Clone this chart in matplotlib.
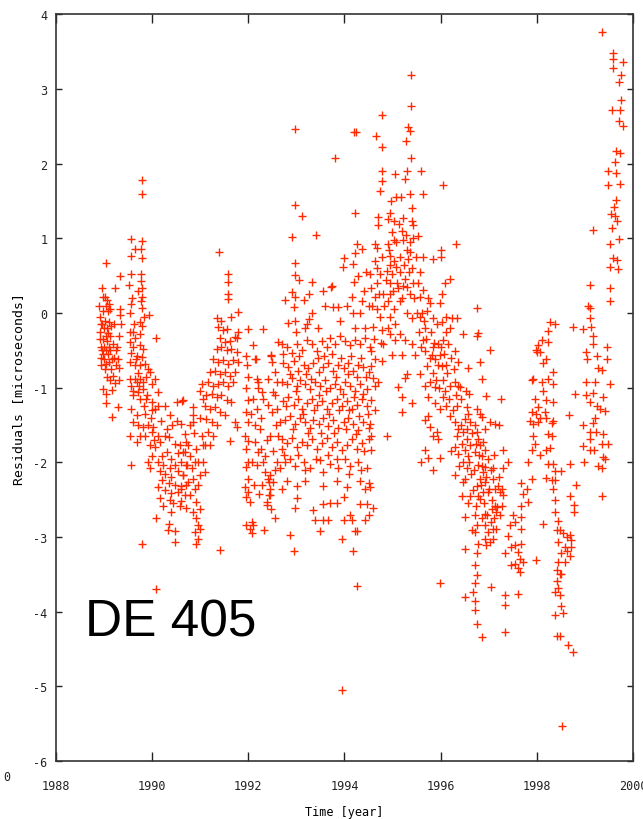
import matplotlib
matplotlib.use('Agg')
import matplotlib.pyplot as plt

plt.rcParams['axes.unicode_minus'] = False

# residuals: (year, microseconds)
obs_1989 = [(1988.90, 0.10), (1988.92, -0.05), (1988.92, -0.25), (1988.93, -0.45), (1988.93, -0.60), (1988.94, -0.70),
            (1988.95, 0.33), (1988.96, -0.15), (1988.97, 0.21), (1988.97, 0.03), (1988.97, -0.35), (1988.97, -0.55),
            (1988.97, -1.01), (1988.99, -0.20), (1989.00, -0.45), (1989.00, -0.62), (1989.02, 0.22), (1989.02, -0.10),
            (1989.03, -0.30), (1989.04, -0.50), (1989.04, -1.21), (1989.05, 0.67), (1989.05, -0.68), (1989.05, -1.08),
            (1989.06, 0.17), (1989.06, -0.20), (1989.07, -0.38), (1989.08, 0.03), (1989.08, -0.55), (1989.09, -0.27),
            (1989.10, 0.12), (1989.10, -0.12), (1989.10, -0.45), (1989.11, -0.65), (1989.12, -0.90), (1989.13, -0.30),
            (1989.13, -0.50), (1989.14, -0.17), (1989.15, -0.75), (1989.16, -1.03), (1989.17, -1.39), (1989.18, -0.42),
            (1989.19, -0.84), (1989.20, -0.60), (1989.23, 0.33), (1989.23, -0.94), (1989.25, -0.50), (1989.28, -1.26),
            (1989.28, -0.62), (1989.30, -0.73), (1989.30, -0.30), (1989.33, 0.06), (1989.33, -0.03), (1989.34, 0.50),
            (1989.35, -0.14), (1988.91, -0.35), (1988.95, -0.50), (1989.01, -0.75), (1989.07, -0.85), (1989.12, 0.05),
            (1989.16, -0.62), (1989.21, -0.15), (1989.24, -0.70), (1989.27, -0.45), (1989.32, -0.90), (1988.93, -0.15),
            (1989.03, 0.10)]

obs_1990 = [(1989.78, 1.78), (1989.78, 1.60), (1989.55, 0.99), (1989.78, 0.97), (1989.76, 0.86), (1989.64, 0.86),
            (1989.78, 0.74), (1989.55, 0.76), (1989.57, 0.52), (1989.76, 0.52), (1989.76, 0.43), (1989.52, 0.38),
            (1989.78, 0.33), (1989.78, 0.22), (1989.76, 0.16), (1989.78, 0.07), (1989.57, 0.12), (1989.54, 0.00),
            (1989.94, -0.03), (1989.75, -0.12), (1989.78, -0.17), (1990.09, -0.34), (1989.55, -2.04), (1989.78, -3.09),
            (1990.08, -3.69), (1989.54, -0.25), (1989.61, -0.25), (1989.75, -0.28), (1989.53, -0.39), (1989.64, -0.34),
            (1989.75, -0.43), (1989.81, -0.48), (1989.57, -0.54), (1989.68, -0.57), (1989.78, -0.59), (1989.54, -0.66),
            (1989.64, -0.70), (1989.75, -0.70), (1989.85, -0.68), (1989.92, -0.75), (1989.95, -0.79), (1989.54, -0.88),
            (1989.64, -0.88), (1989.75, -0.88), (1989.68, -0.92), (1989.81, -0.92), (1989.57, -0.97), (1989.61, -1.04),
            (1989.71, -1.06), (1989.81, -1.01), (1989.99, -0.95), (1990.06, -0.88), (1990.13, -1.06), (1989.61, -1.10),
            (1989.75, -1.15), (1989.88, -1.15), (1989.99, -1.19), (1990.06, -1.28), (1989.57, -1.28), (1989.68, -1.37),
            (1989.61, -1.46), (1989.71, -1.50), (1989.81, -1.53), (1989.92, -1.50), (1990.02, -1.53), (1989.75, -1.64),
            (1989.85, -1.64), (1989.99, -1.59), (1989.54, -1.64), (1989.68, -1.73), (1989.95, -1.77), (1989.99, -1.91),
            (1989.92, -1.99), (1989.95, -2.08), (1989.60, -0.45), (1989.66, -0.62), (1989.70, -0.80), (1989.73, -0.98),
            (1989.83, -1.25), (1989.86, -1.35), (1989.90, -1.10), (1989.88, -0.85), (1989.63, -0.15), (1989.70, 0.30),
            (1989.58, 0.20), (1989.97, -1.40), (1990.03, -1.70), (1990.00, -1.30), (1989.84, -0.05),
            (1990.27, -1.24), (1990.37, -1.37), (1990.51, -1.19), (1990.63, -1.18), (1990.52, -1.44), (1990.61, -1.48),
            (1990.68, -1.62), (1990.13, -1.64), (1990.16, -1.73), (1990.27, -1.64), (1990.34, -1.66), (1990.47, -1.75),
            (1990.58, -1.77), (1990.71, -1.73), (1990.06, -1.80), (1990.20, -1.91), (1990.30, -1.86), (1990.40, -1.95),
            (1990.54, -1.88), (1990.64, -1.86), (1990.13, -1.99), (1990.23, -2.03), (1990.37, -2.08), (1990.47, -2.03),
            (1990.61, -2.00), (1990.71, -2.03), (1990.16, -2.12), (1990.27, -2.15), (1990.40, -2.19), (1990.54, -2.12),
            (1990.64, -2.17), (1990.20, -2.24), (1990.34, -2.28), (1990.47, -2.30), (1990.61, -2.32), (1990.71, -2.30),
            (1990.13, -2.33), (1990.27, -2.37), (1990.40, -2.41), (1990.54, -2.39), (1990.68, -2.43), (1990.16, -2.48),
            (1990.37, -2.50), (1990.61, -2.52), (1990.23, -2.59), (1990.44, -2.55), (1990.58, -2.59), (1990.71, -2.61),
            (1990.40, -2.66), (1990.08, -2.75), (1990.34, -2.83), (1990.47, -2.92), (1990.47, -3.07), (1990.32, -2.91),
            (1990.30, -1.55), (1990.18, -1.45), (1990.42, -1.50), (1990.12, -1.25), (1990.65, -1.17)]

obs_1991 = [(1990.85, -1.26), (1990.85, -1.37), (1990.85, -1.46), (1990.75, -1.77), (1990.79, -1.91), (1990.92, -1.82),
            (1991.03, -1.64), (1991.06, -1.77), (1990.72, -2.04), (1990.82, -2.08), (1990.96, -1.99), (1991.06, -1.99),
            (1990.75, -2.26), (1990.85, -2.22), (1990.99, -2.17), (1991.10, -2.13), (1990.79, -2.44), (1990.89, -2.35),
            (1990.92, -2.53), (1990.99, -2.62), (1990.85, -2.66), (1990.92, -2.75), (1990.96, -2.84), (1990.89, -2.93),
            (1990.96, -3.02), (1990.92, -3.09), (1990.99, -2.89), (1990.68, -1.86), (1990.65, -2.17), (1990.61, -2.35),
            (1990.88, -1.60), (1990.95, -2.30), (1990.90, -2.00), (1991.00, -1.40), (1990.78, -1.50),
            (1991.37, -0.19), (1991.48, -0.23), (1991.41, -0.34), (1991.51, -0.39), (1991.62, -0.37), (1991.72, -0.32),
            (1991.79, -0.25), (1991.34, -0.48), (1991.44, -0.46), (1991.55, -0.50), (1991.65, -0.48), (1991.76, -0.52),
            (1991.27, -0.61), (1991.37, -0.66), (1991.48, -0.63), (1991.58, -0.68), (1991.69, -0.63), (1991.79, -0.66),
            (1991.20, -0.79), (1991.31, -0.77), (1991.41, -0.81), (1991.51, -0.79), (1991.62, -0.84), (1991.72, -0.79),
            (1991.17, -0.92), (1991.27, -0.97), (1991.37, -0.95), (1991.48, -0.92), (1991.58, -0.97), (1991.69, -0.92),
            (1991.13, -1.10), (1991.24, -1.08), (1991.34, -1.12), (1991.44, -1.10), (1991.55, -1.17), (1991.65, -1.19),
            (1991.10, -1.24), (1991.20, -1.28), (1991.31, -1.26), (1991.41, -1.33), (1991.51, -1.37), (1991.13, -1.42),
            (1991.24, -1.46), (1991.34, -1.50), (1991.72, -1.46), (1991.76, -1.53), (1991.62, -1.71), (1991.17, -1.59),
            (1991.27, -1.64), (1991.20, -1.77), (1991.10, -1.77), (1991.39, 0.82), (1991.58, 0.53), (1991.58, 0.42),
            (1991.58, 0.26), (1991.58, 0.19), (1991.34, -0.07), (1991.44, -0.10), (1991.55, -0.21), (1991.65, -0.05),
            (1991.79, 0.01), (1991.76, -0.34), (1991.41, -3.17), (1991.03, -0.95), (1991.06, -1.15), (1991.00, -1.05)]

obs_1992 = [(1991.96, -0.57), (1991.97, -0.70), (1992.00, -0.86), (1991.96, -1.00), (1992.00, -1.17), (1991.96, -1.33),
            (1992.00, -1.46), (1991.93, -1.64), (1992.00, -1.71), (1991.96, -1.82), (1992.00, -1.99), (1991.96, -2.06),
            (1992.00, -2.22), (1991.93, -2.33), (1992.00, -2.40), (1991.96, -2.46), (1992.03, -2.53), (1991.96, -2.84),
            (1992.03, -2.89), (1992.10, -2.84), (1992.07, -2.95), (1992.32, -2.91), (1992.00, -0.21), (1992.10, -0.43),
            (1992.14, -0.61), (1992.17, -0.88), (1992.20, -1.00), (1992.10, -1.15), (1992.17, -1.28), (1992.24, -1.55),
            (1992.14, -1.73), (1992.20, -1.86), (1992.07, -1.99), (1992.17, -2.04), (1992.27, -1.82), (1992.31, -1.99),
            (1992.35, -2.13), (1992.41, -2.22), (1992.45, -2.35), (1992.38, -2.53), (1992.48, -2.62), (1992.45, -2.44),
            (1992.52, -2.26), (1992.55, -2.75), (1992.31, -0.21), (1992.48, -0.56), (1992.41, -0.88), (1992.52, -1.06),
            (1992.59, -1.28), (1992.66, -1.46), (1992.62, -1.64), (1992.69, -1.82), (1992.59, -1.99), (1992.66, -2.08),
            (1992.47, -0.57), (1992.16, -0.61), (1992.20, -0.92), (1992.28, -1.06), (1992.27, -1.41), (1992.34, -1.91),
            (1992.38, -2.57), (1992.43, -2.44), (1992.42, -2.26), (1992.45, -2.17), (1992.45, -1.64), (1992.41, -1.23),
            (1992.50, -1.32), (1992.58, -1.50), (1992.55, -1.10), (1992.60, -0.92), (1992.55, -0.79), (1992.50, -0.66),
            (1992.62, -0.39), (1992.12, -2.30), (1992.08, -2.80), (1992.22, -2.42), (1992.28, -2.30), (1992.05, -1.35),
            (1992.13, -1.50), (1992.38, -1.70), (1992.52, -1.85), (1992.56, -2.10), (1992.30, -1.15)]

obs_1993 = [(1992.97, 2.46), (1994.20, 2.42), (1994.24, 2.42), (1993.80, 2.08), (1992.97, 1.45), (1993.12, 1.30),
            (1992.90, 1.02), (1993.41, 1.04), (1994.22, 1.34), (1992.97, 0.67), (1992.97, 0.51), (1993.33, 0.42),
            (1993.72, 0.35), (1994.27, 0.92), (1994.36, 0.86), (1994.22, 0.80), (1994.00, 0.74), (1993.96, 0.62),
            (1994.17, 0.66), (1994.20, 0.42), (1992.76, 0.17), (1992.90, 0.28), (1992.97, 0.22), (1993.26, 0.26),
            (1993.16, 0.17), (1992.83, -0.13), (1992.94, 0.08), (1992.97, -0.10), (1993.27, -0.08), (1993.21, -0.15),
            (1993.33, 0.00), (1993.18, -0.20), (1993.73, 0.36), (1993.60, 0.10), (1993.77, 0.08), (1993.87, 0.08),
            (1994.05, 0.10), (1994.15, 0.21), (1994.18, 0.00), (1994.36, 0.16), (1994.32, 0.00), (1994.50, 0.10),
            (1994.43, -0.20), (1994.22, -0.20),
            (1992.69, -0.41), (1992.80, -0.46), (1992.90, -0.54), (1993.01, -0.41), (1993.11, -0.49), (1993.21, -0.36),
            (1993.32, -0.41), (1993.42, -0.51), (1993.53, -0.38), (1993.63, -0.46), (1993.70, -0.33), (1993.80, -0.41),
            (1993.91, -0.31), (1994.01, -0.38), (1994.12, -0.43), (1994.22, -0.36), (1994.32, -0.41), (1994.43, -0.33),
            (1994.53, -0.46),
            (1992.73, -0.67), (1992.83, -0.72), (1992.94, -0.64), (1993.04, -0.77), (1993.15, -0.69), (1993.25, -0.74),
            (1993.35, -0.67), (1993.46, -0.79), (1993.56, -0.72), (1993.66, -0.67), (1993.77, -0.77), (1993.87, -0.69),
            (1993.98, -0.74), (1994.08, -0.67), (1994.18, -0.77), (1994.29, -0.69), (1994.39, -0.72), (1994.50, -0.79),
            (1992.69, -0.92), (1992.80, -0.95), (1992.90, -0.87), (1993.01, -0.97), (1993.08, -0.90), (1993.18, -0.95),
            (1993.28, -1.02), (1993.39, -0.92), (1993.49, -0.97), (1993.60, -0.90), (1993.70, -1.00), (1993.80, -0.95),
            (1993.91, -1.02), (1994.01, -0.92), (1994.12, -0.97), (1994.22, -1.05), (1994.32, -0.95), (1994.46, -1.02),
            (1992.73, -1.18), (1992.83, -1.13), (1992.94, -1.23), (1993.04, -1.15), (1993.11, -1.28), (1993.21, -1.20),
            (1993.32, -1.15), (1993.42, -1.23), (1993.53, -1.18), (1993.63, -1.28), (1993.73, -1.20), (1993.84, -1.15),
            (1993.94, -1.25), (1994.05, -1.18), (1994.15, -1.28), (1994.25, -1.23), (1994.36, -1.15), (1994.46, -1.25),
            (1992.76, -1.43), (1992.87, -1.38), (1992.97, -1.49), (1993.08, -1.41), (1993.18, -1.46), (1993.28, -1.54),
            (1993.35, -1.43), (1993.46, -1.49), (1993.56, -1.41), (1993.66, -1.51), (1993.77, -1.43), (1993.87, -1.54),
            (1993.98, -1.46), (1994.08, -1.41), (1994.18, -1.49), (1994.29, -1.56), (1994.39, -1.46), (1994.50, -1.54),
            (1992.69, -1.69), (1992.80, -1.74), (1992.90, -1.67), (1993.01, -1.79), (1993.11, -1.72), (1993.21, -1.77),
            (1993.32, -1.69), (1993.42, -1.82), (1993.53, -1.74), (1993.63, -1.67), (1993.73, -1.79), (1993.84, -1.72),
            (1993.94, -1.84), (1994.05, -1.77), (1994.15, -1.69), (1994.25, -1.82), (1994.36, -1.74), (1994.50, -1.69),
            (1992.76, -2.00), (1992.87, -1.95), (1992.97, -2.05), (1993.15, -2.00), (1993.28, -2.07), (1993.49, -1.97),
            (1993.56, -2.13), (1993.70, -2.02), (1993.87, -2.07), (1994.01, -1.95), (1994.12, -2.05), (1994.29, -2.00),
            (1994.46, -2.07), (1992.80, -2.25), (1993.01, -2.31), (1993.18, -2.25), (1993.56, -2.31), (1993.84, -2.25),
            (1994.05, -2.33), (1994.32, -2.25), (1994.50, -2.28),
            (1992.69, -2.36), (1993.01, -2.48), (1992.97, -2.61), (1993.35, -2.64), (1993.39, -2.77), (1993.56, -2.56),
            (1993.56, -2.77), (1993.66, -2.77), (1993.49, -2.92), (1993.70, -2.54), (1993.84, -2.54), (1993.98, -2.46),
            (1993.98, -2.77), (1993.94, -3.02), (1994.12, -2.71), (1994.15, -2.77), (1994.18, -3.18), (1994.22, -2.92),
            (1994.25, -2.92), (1994.32, -2.56), (1994.43, -2.36), (1994.46, -2.56), (1994.43, -2.77), (1994.50, -2.71),
            (1992.87, -2.97), (1992.94, -3.18), (1994.25, -3.66), (1993.94, -5.05),
            (1992.72, -0.55), (1992.86, -0.82), (1992.99, -1.05), (1993.06, -0.58), (1993.13, -1.35), (1993.20, -0.82),
            (1993.24, -1.60), (1993.30, -0.88), (1993.37, -1.30), (1993.44, -0.60), (1993.48, -1.10), (1993.51, -1.60),
            (1993.58, -0.58), (1993.62, -1.05), (1993.68, -1.35), (1993.75, -0.55), (1993.79, -1.60), (1993.82, -0.85),
            (1993.89, -1.30), (1993.92, -0.60), (1993.96, -1.08), (1994.03, -1.55), (1994.07, -0.82), (1994.10, -1.30),
            (1994.14, -0.58), (1994.20, -1.12), (1994.24, -1.62), (1994.27, -0.85), (1994.31, -1.38), (1994.34, -0.60),
            (1994.38, -1.08), (1994.41, -1.85), (1994.44, -0.85), (1994.48, -1.35), (1992.78, -1.25), (1992.92, -1.55),
            (1993.03, -1.90), (1993.17, -2.10), (1993.40, -1.95), (1993.65, -1.90), (1993.85, -1.95), (1994.10, -2.15),
            (1994.35, -2.10), (1992.75, -1.90), (1993.00, -0.25), (1993.45, -0.20), (1993.90, -0.10), (1994.40, 0.30),
            (1994.45, 0.55), (1994.28, 0.50), (1993.55, 0.30), (1993.05, 0.45)]

obs_1995 = [(1995.38, 3.19), (1995.38, 2.77), (1994.77, 2.66), (1994.65, 2.37), (1994.77, 2.22), (1995.33, 2.49),
            (1995.36, 2.44), (1995.28, 2.31), (1995.38, 2.08), (1994.77, 1.91), (1994.77, 1.77), (1994.74, 1.64),
            (1995.06, 1.87), (1995.26, 1.80), (1995.31, 1.91), (1995.60, 1.91), (1996.05, 1.72), (1995.64, 1.59),
            (1995.36, 1.59), (1994.96, 1.50), (1995.08, 1.56), (1995.17, 1.56), (1994.95, 1.34), (1994.70, 1.29),
            (1994.70, 1.18), (1994.91, 1.26), (1995.02, 1.23), (1995.22, 1.28), (1995.40, 1.41), (1995.40, 1.23),
            (1995.43, 1.18), (1994.63, 0.92), (1994.67, 0.87), (1994.91, 0.93), (1994.98, 1.08), (1995.02, 0.98),
            (1995.19, 1.10), (1995.22, 0.98), (1995.29, 0.85), (1995.43, 1.00), (1995.53, 1.03), (1995.36, 0.82),
            (1995.33, 0.72), (1994.95, 0.77), (1994.95, 0.64), (1995.08, 0.62), (1995.15, 0.75), (1994.98, 0.52),
            (1994.88, 0.57), (1994.63, 0.70), (1994.53, 0.52), (1994.74, 0.52), (1994.67, 0.41), (1994.56, 0.34),
            (1995.64, 0.75), (1995.85, 0.72), (1996.01, 0.85), (1996.01, 0.75), (1996.32, 0.93), (1996.19, 0.46),
            (1996.09, 0.40), (1996.02, 0.26), (1995.99, 0.13), (1995.78, 0.13), (1995.57, 0.21), (1995.64, 0.31),
            (1995.43, 0.41), (1995.26, 0.46), (1995.22, 0.36), (1995.36, 0.26), (1995.12, 0.34), (1995.15, 0.16),
            (1995.29, 0.00), (1995.40, -0.07), (1995.50, 0.00), (1995.57, -0.05), (1995.71, 0.03), (1995.67, -0.20),
            (1995.85, -0.07), (1995.92, -0.15), (1996.02, -0.12), (1996.12, -0.05), (1996.23, -0.07), (1996.33, -0.07),
            (1996.19, -0.20), (1996.12, -0.25), (1994.95, 0.41), (1994.95, 0.26), (1994.91, 0.16), (1995.02, 0.05),
            (1994.95, -0.05), (1995.05, -0.15), (1994.95, -0.28), (1995.05, -0.36), (1995.15, -0.28), (1995.26, -0.36),
            (1995.19, -0.56), (1994.98, -0.56), (1994.81, -0.41), (1994.77, -0.23), (1994.74, -0.05), (1994.67, 0.05),
            (1994.63, 0.21), (1994.81, 0.26), (1994.60, -0.18), (1994.56, -0.51), (1994.63, -0.61), (1994.77, -0.64),
            (1994.56, -0.71), (1994.60, -0.87), (1994.70, -0.92), (1994.63, -0.97), (1994.56, -1.17), (1994.63, -1.30),
            (1994.53, -1.48), (1994.56, -1.64), (1994.56, -1.84), (1994.88, -1.64), (1994.53, -2.33), (1994.60, -2.61),
            (1995.47, -0.56), (1995.40, -0.41), (1995.64, -0.36), (1995.60, -0.46), (1995.67, -0.51), (1995.81, -0.56),
            (1995.88, -0.61), (1995.99, -0.56), (1995.85, -0.46), (1995.95, -0.41), (1996.05, -0.36), (1996.16, -0.41),
            (1996.30, -0.51), (1996.37, -0.66), (1996.12, -0.69), (1996.02, -0.71), (1995.71, -0.71), (1995.57, -0.82),
            (1995.67, -0.97), (1995.78, -0.92), (1995.88, -0.99), (1995.74, -1.12), (1995.88, -1.20), (1995.99, -1.28),
            (1996.12, -1.25), (1996.05, -1.12), (1996.19, -0.97), (1996.30, -0.92), (1996.37, -0.97), (1996.33, -1.25),
            (1996.19, -1.38), (1996.30, -1.46), (1995.29, -0.82), (1995.26, -0.87), (1995.12, -0.99), (1995.19, -1.12),
            (1995.19, -1.33), (1995.40, -1.20), (1995.74, -1.38), (1995.78, -1.53), (1995.67, -1.43), (1995.92, -1.59),
            (1995.95, -1.69), (1995.85, -1.64), (1995.99, -1.94), (1995.67, -1.84), (1995.60, -1.99), (1995.74, -1.94),
            (1995.85, -2.10), (1996.33, -1.64), (1996.30, -1.79), (1996.37, -1.89), (1996.30, -2.17), (1995.99, -3.62),
            (1994.58, 0.10), (1994.62, -0.35), (1994.68, 0.60), (1994.72, 0.25), (1994.75, -0.40), (1994.79, 0.75),
            (1994.83, 0.10), (1994.86, 0.45), (1994.90, -0.20), (1994.93, 0.85), (1995.00, 0.30), (1995.04, 0.70),
            (1995.07, 0.95), (1995.10, 0.40), (1995.13, 1.20), (1995.16, 0.55), (1995.20, 0.20), (1995.24, 0.65),
            (1995.27, 1.05), (1995.30, 0.35), (1995.34, 0.55), (1995.37, 0.95), (1995.41, 0.60), (1995.45, 0.20),
            (1995.48, 0.75), (1995.52, 0.40), (1995.55, -0.25), (1995.58, 0.55), (1995.62, 0.00), (1995.66, -0.10),
            (1995.70, -0.35), (1995.73, 0.20), (1995.77, -0.60), (1995.80, -0.25), (1995.84, -0.80), (1995.87, -0.40),
            (1995.90, -0.90), (1995.94, -0.70), (1995.97, -1.00), (1996.00, -0.45), (1996.04, -0.90), (1996.07, -0.55),
            (1996.10, -1.05), (1996.14, -0.80), (1996.17, -1.15), (1996.21, -0.60), (1996.25, -1.30), (1996.28, -0.75),
            (1996.32, -1.10), (1996.36, -1.55), (1996.22, -1.85), (1996.38, -2.05)]

obs_1997 = [(1996.75, 0.07), (1996.78, -0.26), (1996.76, -0.31), (1996.46, -0.28), (1997.02, -0.50), (1996.82, -0.65),
            (1996.57, -0.74), (1996.85, -0.88), (1996.59, -1.08), (1996.95, -1.11), (1997.25, -1.15), (1996.40, -0.99),
            (1996.43, -1.15), (1996.54, -1.26), (1996.57, -1.35), (1996.50, -1.42), (1996.61, -1.46), (1996.75, -1.28),
            (1996.82, -1.35), (1996.85, -1.39), (1996.71, -1.50), (1996.43, -1.50), (1996.47, -1.59), (1996.54, -1.68),
            (1996.61, -1.77), (1996.50, -1.84), (1996.57, -1.91), (1996.75, -1.59), (1996.78, -1.68), (1996.82, -1.77),
            (1996.89, -1.73), (1996.92, -1.84), (1996.85, -1.91), (1996.71, -1.86), (1996.47, -2.00), (1996.54, -2.08),
            (1996.64, -2.15), (1996.50, -2.22), (1996.47, -2.26), (1996.78, -2.04), (1996.92, -2.06), (1996.89, -2.13),
            (1996.82, -2.22), (1996.92, -2.26), (1996.75, -2.31), (1996.68, -2.37), (1996.89, -2.40), (1996.82, -2.49),
            (1996.99, -2.40), (1997.09, -2.08), (1997.09, -2.22), (1997.20, -2.31), (1997.23, -2.40), (1997.13, -2.58),
            (1997.06, -2.62), (1997.16, -2.67), (1997.27, -2.58), (1997.30, -2.44), (1997.30, -2.08), (1997.40, -2.00),
            (1997.30, -1.84), (1997.13, -1.48), (1997.22, -1.50), (1997.02, -1.46), (1996.73, -2.58), (1996.71, -2.71),
            (1996.50, -2.73), (1996.75, -2.84), (1996.85, -2.75), (1996.92, -2.69), (1996.92, -2.84), (1996.99, -2.93),
            (1997.09, -3.02), (1997.02, -3.07), (1996.92, -3.02), (1996.95, -3.11), (1997.09, -2.89), (1997.16, -2.89),
            (1996.71, -2.93), (1996.78, -3.09), (1996.75, -3.22), (1996.71, -3.38), (1996.75, -3.51), (1996.71, -3.62),
            (1996.68, -3.74), (1996.71, -3.85), (1996.71, -3.98), (1996.75, -4.16), (1996.85, -4.34), (1996.50, -3.16),
            (1996.50, -3.80), (1997.04, -3.67), (1997.34, -3.22), (1997.34, -3.78), (1997.34, -3.91), (1997.34, -4.27),
            (1997.61, -3.76), (1997.51, -2.71), (1997.54, -2.80), (1997.44, -2.84), (1997.40, -2.98), (1997.47, -3.13),
            (1997.54, -3.11), (1997.47, -3.38), (1997.54, -3.36), (1997.65, -3.29), (1997.61, -3.20), (1997.61, -3.42),
            (1997.65, -3.47), (1997.68, -3.09), (1997.72, -3.33), (1997.68, -2.89), (1997.68, -2.73), (1997.68, -2.58),
            (1997.72, -2.42), (1997.79, -2.35), (1997.68, -2.28), (1997.82, -2.53), (1997.99, -3.31),
            (1997.89, -0.90), (1997.92, -0.88), (1997.98, -0.50), (1998.01, -0.52), (1998.03, -0.43), (1997.96, -1.15),
            (1998.03, -1.26), (1997.99, -1.35), (1997.89, -1.33), (1997.86, -1.44), (1997.92, -1.48), (1998.03, -1.46),
            (1997.92, -1.64), (1997.96, -1.75), (1997.89, -1.84), (1997.82, -2.00), (1997.89, -2.22),
            (1996.55, -1.55), (1996.60, -2.00), (1996.66, -1.60), (1996.70, -2.10), (1996.74, -1.75), (1996.77, -2.45),
            (1996.80, -1.90), (1996.84, -2.30), (1996.87, -2.05), (1996.90, -2.55), (1996.94, -2.20), (1996.97, -2.70),
            (1997.00, -2.35), (1997.04, -2.80), (1997.07, -2.50), (1997.11, -2.75), (1997.14, -2.35), (1997.18, -2.60),
            (1997.21, -2.20), (1997.24, -2.70), (1997.28, -2.35), (1997.05, -2.10), (1997.10, -1.90), (1996.98, -1.95),
            (1996.92, -1.55), (1996.65, -2.90), (1996.62, -2.45), (1996.56, -2.55), (1996.52, -1.05), (1996.45, -1.75),
            (1996.44, -2.45)]

obs_1999 = [(1998.27, -0.12), (1998.37, -0.15), (1998.24, -0.24), (1998.24, -0.39), (1998.10, -0.36), (1998.06, -0.52),
            (1998.20, -0.61), (1998.13, -0.67), (1998.34, -0.79), (1998.10, -0.92), (1998.24, -0.88), (1998.34, -0.95),
            (1998.13, -1.04), (1998.20, -1.16), (1998.34, -1.19), (1998.17, -1.32), (1998.06, -1.41), (1998.20, -1.41),
            (1998.31, -1.47), (1998.34, -1.44), (1998.24, -1.62), (1998.31, -1.65), (1998.27, -1.81), (1998.20, -1.84),
            (1998.06, -1.90), (1998.24, -2.02), (1998.34, -2.02), (1998.20, -2.21), (1998.31, -2.24), (1998.37, -2.11),
            (1998.51, -2.11), (1998.34, -2.36), (1998.37, -2.51), (1998.37, -2.67), (1998.44, -2.79), (1998.41, -2.91),
            (1998.48, -2.91), (1998.55, -2.94), (1998.62, -3.00), (1998.69, -2.97), (1998.72, -3.04), (1998.58, -3.13),
            (1998.51, -3.22), (1998.44, -3.07), (1998.72, -3.13), (1998.62, -3.19), (1998.58, -3.34), (1998.69, -3.25),
            (1998.44, -3.34), (1998.41, -3.44), (1998.48, -3.50), (1998.51, -3.50), (1998.41, -3.59), (1998.37, -3.74),
            (1998.44, -3.68), (1998.48, -3.77), (1998.51, -3.93), (1998.55, -4.02), (1998.37, -4.05), (1998.41, -4.33),
            (1998.48, -4.33), (1998.65, -4.45), (1998.76, -4.54), (1998.53, -5.53), (1998.12, -2.82), (1998.69, -2.02),
            (1998.69, -2.45), (1998.81, -2.30), (1998.78, -2.57), (1998.78, -2.67), (1998.67, -1.36), (1998.79, -1.09),
            (1998.37, -2.24),
            (1999.35, 3.77), (1999.58, 3.48), (1999.58, 3.40), (1999.58, 3.28), (1999.79, 3.37), (1999.75, 3.19),
            (1999.70, 3.09), (1999.75, 2.86), (1999.73, 2.72), (1999.70, 2.58), (1999.57, 2.72), (1999.79, 2.50),
            (1999.65, 2.17), (1999.72, 2.15), (1999.62, 2.02), (1999.48, 1.91), (1999.65, 1.88), (1999.48, 1.72),
            (1999.72, 1.73), (1999.64, 1.51), (1999.60, 1.42), (1999.62, 1.30), (1999.55, 1.33), (1999.67, 1.24),
            (1999.57, 1.14), (1999.70, 0.99), (1999.52, 0.93), (1999.58, 0.74), (1999.67, 0.71), (1999.69, 0.59),
            (1999.52, 0.62), (1999.17, 1.11), (1999.52, 0.34), (1999.52, 0.16), (1999.11, 0.37), (1999.07, 0.10),
            (1999.11, 0.07), (1999.10, -0.06), (1999.13, -0.18), (1999.17, -0.30), (1999.17, -0.42), (1998.96, -0.21),
            (1998.76, -0.18), (1999.03, -0.52), (1999.05, -0.61), (1999.25, -0.58), (1999.28, -0.73), (1999.35, -0.76),
            (1999.45, -0.45), (1999.45, -0.61), (1999.52, -0.95), (1999.21, -0.92), (1999.02, -0.92), (1999.02, -1.10),
            (1999.10, -1.19), (1999.17, -1.07), (1998.96, -1.50), (1999.17, -1.47), (1999.23, -1.59), (1999.21, -1.41),
            (1999.25, -1.25), (1999.31, -1.28), (1999.38, -1.13), (1999.41, -1.31), (1999.38, -1.62), (1999.35, -1.75),
            (1999.48, -1.75), (1999.38, -1.93), (1999.41, -1.96), (1999.35, -2.08), (1998.96, -1.78), (1998.98, -1.99),
            (1999.10, -1.84), (1999.18, -1.84), (1999.28, -2.05), (1999.35, -2.45), (1999.10, -1.59), (1999.10, -1.68)]

groups = [obs_1989, obs_1990, obs_1991, obs_1992, obs_1993, obs_1995, obs_1997, obs_1999]
years = [p[0] for g in groups for p in g]
resid = [p[1] for g in groups for p in g]

mono = 'DejaVu Sans Mono'

fig = plt.figure(figsize=(6.43, 8.20), dpi=100)
ax = fig.add_axes([0.0871, 0.0707, 0.8973, 0.9104])

ax.plot(years, resid, '+', color='#ff2a00', ms=5.5, mew=1.0, ls='none')

ax.set_xlim(1988, 2000)
ax.set_ylim(-6, 4)
ax.set_xticks(range(1988, 2001, 2))
ax.set_yticks(range(-6, 5))
ax.tick_params(axis='x', direction='in', top=True, length=6.5, width=1.0, pad=13,
               labelsize=8.5, colors='#222222')
ax.tick_params(axis='y', direction='in', right=True, length=4.5, width=1.0, pad=6,
               labelsize=8.5, colors='#222222')
for lab in ax.get_xticklabels() + ax.get_yticklabels():
    lab.set_fontfamily(mono)
for s in ax.spines.values():
    s.set_linewidth(1.2)
    s.set_color('#333333')

ax.set_xlabel('Time [year]', fontfamily=mono, fontsize=8.5, labelpad=9)
ax.set_ylabel('Residuals [microseconds]', fontfamily=mono, fontsize=9.5, labelpad=6)

ax.text(0.05, 0.168, 'DE 405', transform=ax.transAxes, fontfamily='Liberation Sans',
        fontsize=37, va='baseline', ha='left', color='black')

fig.text(0.005, 0.048, '0', fontfamily=mono, fontsize=8.5, color='#222222')

fig.savefig('out.png', dpi=100)
